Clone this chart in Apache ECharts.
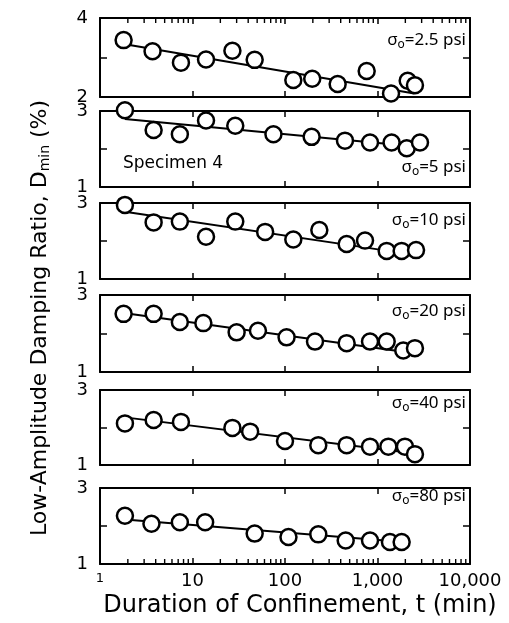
<!DOCTYPE html>
<html>
<head>
<meta charset="UTF-8">
<title>Damping ratio vs confinement</title>
<script src="https://cdn.jsdelivr.net/npm/echarts@6/dist/echarts.min.js"></script>
<style>
  html, body { margin: 0; padding: 0; background: #fff; }
  #chart { width: 509px; height: 623px; }
</style>
</head>
<body>
<div id="chart"></div>
<script>
// confining stress of each panel (psi), top to bottom
var stressLabels = ['2.5', '5', '10', '20', '40', '80'];
var yMin = [2, 1, 1, 1, 1, 1];
var yMax = [4, 3, 3, 3, 3, 3];
var xTickLabels = {1: '1', 10: '10', 100: '100', 1000: '1,000', 10000: '10,000'};

// duration t (min) and Dmin (%)
var t1 = [1.8, 3.7, 7.5, 14, 27, 47, 123, 197, 371, 764, 1400, 2120, 2540];
var d1 = [3.44, 3.16, 2.87, 2.95, 3.17, 2.94, 2.43, 2.46, 2.33, 2.66, 2.09, 2.41, 2.30];
var t2 = [1.86, 3.8, 7.3, 14, 29, 75, 194, 445, 830, 1420, 2070, 2880];
var d2 = [3.02, 2.5, 2.39, 2.75, 2.61, 2.39, 2.32, 2.22, 2.17, 2.17, 2.02, 2.17];
var t3 = [1.86, 3.8, 7.3, 14, 29, 61, 123, 235, 464, 733, 1257, 1824, 2610];
var d3 = [2.95, 2.49, 2.51, 2.11, 2.51, 2.24, 2.04, 2.29, 1.92, 2.01, 1.74, 1.74, 1.76];
var t4 = [1.8, 3.8, 7.3, 13.1, 30, 51, 104, 211, 464, 830, 1257, 1900, 2540];
var d4 = [2.51, 2.51, 2.30, 2.27, 2.03, 2.07, 1.90, 1.79, 1.75, 1.79, 1.79, 1.56, 1.62];
var t5 = [1.86, 3.8, 7.5, 27, 42, 100, 229, 464, 830, 1310, 1980, 2540];
var d5 = [2.11, 2.2, 2.15, 1.99, 1.89, 1.64, 1.53, 1.53, 1.49, 1.49, 1.49, 1.29];
var t6 = [1.86, 3.6, 7.3, 13.7, 47, 109, 229, 453, 830, 1363, 1824];
var d6 = [2.27, 2.06, 2.1, 2.1, 1.8, 1.71, 1.78, 1.62, 1.62, 1.58, 1.58];

// fitted trend lines: [t start, t end], [D start, D end]
var fitT = [[1.8, 2500], [1.86, 2900], [1.86, 1300], [1.8, 2500], [1.86, 2700], [1.86, 1900]];
var fitD = [[3.34, 2.09], [2.79, 2.05], [2.77, 1.74], [2.53, 1.49], [2.27, 1.30], [2.17, 1.58]];

var allT = [t1, t2, t3, t4, t5, t6];
var allD = [d1, d2, d3, d4, d5, d6];

// minor log ticks for the outer edges
var minorT = [];
[1, 10, 100, 1000].forEach(function (dec) {
    for (var k = 2; k <= 9; k++) minorT.push(k * dec);
});

var tops = [18, 111, 203, 295, 390, 488];
var heights = [79, 76, 76, 77, 75, 76];
var font = 'Noto Sans';
var wideFont = 'DejaVu Sans';

var grids = [], xAxes = [], yAxes = [], series = [];
var axisLine = {show: true, onZero: false, lineStyle: {color: '#000', width: 2}};

for (var i = 0; i < 6; i++) {
    grids.push({left: 100, width: 370, top: tops[i], height: heights[i]});
    ['bottom', 'top'].forEach(function (pos) {
        xAxes.push({
            type: 'log', logBase: 10, gridIndex: i, min: 1, max: 10000, position: pos,
            axisLine: axisLine,
            axisTick: {show: true, inside: true, length: 6, lineStyle: {color: '#000', width: 1.5}},
            axisLabel: {
                show: i === 5 && pos === 'bottom', margin: 8,
                color: '#000', fontFamily: wideFont, fontSize: 18,
                formatter: function (v) {
                    var s = xTickLabels[Math.round(v)] || '';
                    return s === '1' ? '{s|1}' : s;
                },
                rich: {s: {fontSize: 13, fontFamily: wideFont, color: '#000', padding: [0, 0, 4, 0]}}
            },
            splitLine: {show: false}
        });
    });
    (function (lo, hi) {
        ['left', 'right'].forEach(function (pos) {
            yAxes.push({
                type: 'value', gridIndex: i, min: lo, max: hi, interval: 1, position: pos,
                axisLine: axisLine,
                axisTick: {show: true, inside: true, length: 7, lineStyle: {color: '#000', width: 1.5}},
                axisLabel: {
                    show: pos === 'left', margin: 12, color: '#000',
                    fontFamily: wideFont, fontSize: 18,
                    formatter: function (v) { return (v === lo || v === hi) ? String(v) : ''; }
                },
                splitLine: {show: false}
            });
        });
    })(yMin[i], yMax[i]);

    // trend line
    series.push({
        type: 'line', xAxisIndex: 2 * i, yAxisIndex: 2 * i, symbol: 'none', z: 2,
        lineStyle: {color: '#000', width: 2},
        data: [[fitT[i][0], fitD[i][0]], [fitT[i][1], fitD[i][1]]],
        silent: true
    });
    // measurements
    series.push({
        type: 'scatter', xAxisIndex: 2 * i, yAxisIndex: 2 * i, z: 3, clip: false,
        symbol: 'circle', symbolSize: 16,
        itemStyle: {color: '#fff', borderColor: '#000', borderWidth: 2.5, opacity: 1},
        data: allT[i].map(function (t, j) { return [t, allD[i][j]]; })
    });
}

// minor ticks: top edge of first panel, bottom edge of last panel
function minorTicks(panel, atTop) {
    return {
        type: 'scatter', xAxisIndex: 2 * panel, yAxisIndex: 2 * panel, clip: false, silent: true,
        symbol: 'rect', symbolSize: [1.4, 5], symbolOffset: [0, atTop ? 2.5 : -2.5], z: 4,
        itemStyle: {color: '#000', opacity: 1},
        data: minorT.map(function (t) { return [t, atTop ? yMax[panel] : yMin[panel]]; })
    };
}
series.push(minorTicks(0, true));
series.push(minorTicks(5, false));

var subRich = {
    o: {fontSize: 12, fontFamily: font, fill: '#000', padding: [9, 0, 0, 0]}
};
var annTop = [44, 171, 224, 315, 407, 500];
var graphics = stressLabels.map(function (s, i) {
    return {
        type: 'text', right: 509 - 466, top: annTop[i] - 12, z: 10,
        style: {text: 'σ{o|o}=' + s + ' psi', font: '17px "Noto Sans"', fill: '#000', rich: subRich}
    };
});
graphics.push({
    type: 'text', left: 123, top: 155, z: 10,
    style: {text: 'Specimen 4', font: '17px "DejaVu Sans"', fill: '#000'}
});
graphics.push({
    type: 'text', x: 40, y: 318, rotation: Math.PI / 2, z: 10,
    style: {
        text: 'Low-Amplitude Damping Ratio, D{m|min} (%)', font: '22px "DejaVu Sans"', fill: '#000',
        align: 'center', verticalAlign: 'middle',
        rich: {m: {fontSize: 14, fontFamily: wideFont, fill: '#000', padding: [11, 0, 0, 0]}}
    }
});
graphics.push({
    type: 'text', x: 300, y: 606, z: 10,
    style: {text: 'Duration of Confinement, t (min)', font: '24px "DejaVu Sans"', fill: '#000',
            align: 'center', verticalAlign: 'middle'}
});

var chart = echarts.init(document.getElementById('chart'));
chart.setOption({
    animation: false,
    backgroundColor: '#fff',
    grid: grids,
    xAxis: xAxes,
    yAxis: yAxes,
    series: series,
    graphic: graphics
});
</script>
</body>
</html>
